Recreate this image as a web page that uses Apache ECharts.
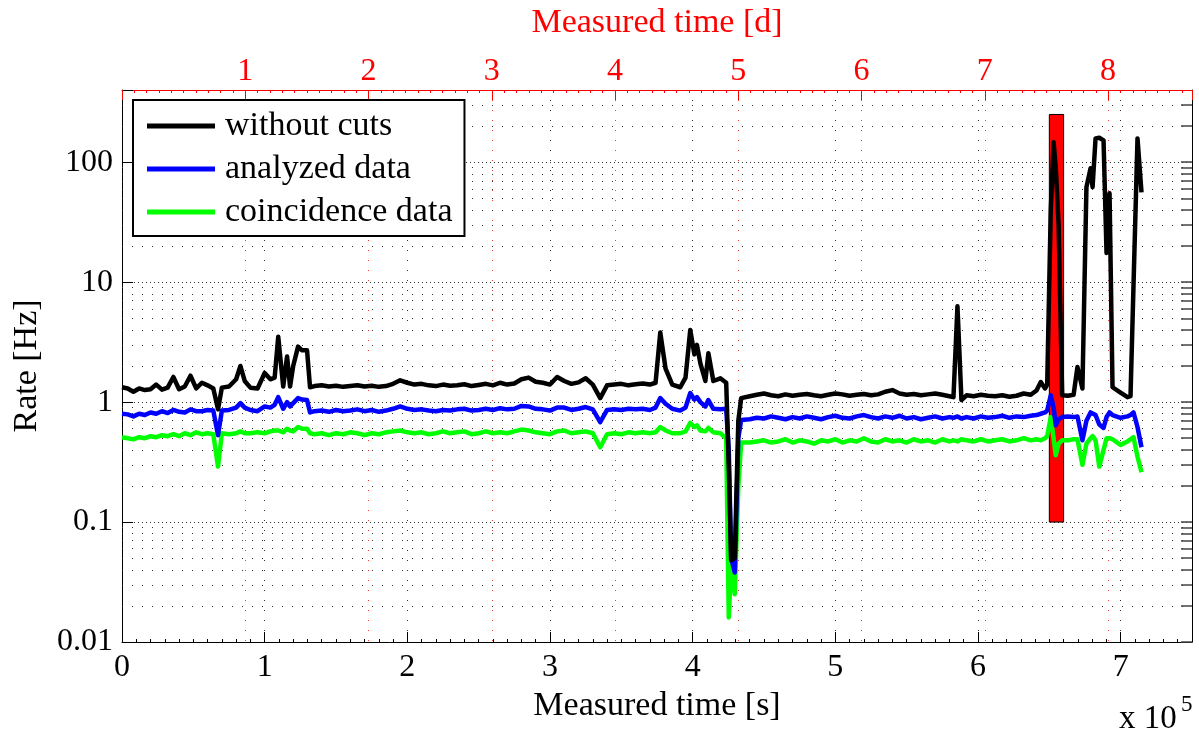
<!DOCTYPE html>
<html><head><meta charset="utf-8">
<script src="https://cdn.jsdelivr.net/npm/echarts@6/dist/echarts.min.js"></script>
<style>html,body{margin:0;padding:0;background:#fff}#c{width:1199px;height:737px}</style>
</head><body><div id="c"></div>
<script>
// ---- data (time in seconds, rate in Hz) ----
const timeS = [
  0,4000,8000,12000,16000,20000,24000,28000,32000,36000,40000,44000,48000,52000,56000,60000,64000,
  67300,70000,75000,80000,83000,86000,90000,95000,100000,104000,107000,109500,113000,115700,117800,120000,123400,126200,129700,131800,
  135000,140000,145000,150000,155000,160000,165000,170000,175000,180000,185000,190000,195000,200000,205000,210000,215000,220000,225000,230000,
  235000,240000,245000,250000,255000,260000,265000,270000,275000,280000,285000,290000,295000,300000,305000,310000,315000,320000,325000,330000,
  335200,340000,345000,350000,355000,360000,365000,370000,374000,377300,381000,385700,391300,395000,398300,401200,403000,405400,408900,411000,
  414500,419400,423500,425300,427000,429500,432000,434000,
  440000,445000,450000,455000,460000,465000,470000,475000,480000,485000,490000,495000,500000,505000,510000,515000,520000,525000,530000,535000,
  540000,545000,550000,555000,560000,565000,570000,575000,580000,
  582800,585600,588400,
  592000,597000,602000,607000,612000,617000,622000,627000,632000,637000,641000,644000,647000,
  648500,651000,653000,654500,656500,659000,663000,667000,669700,673200,676000,678900,680300,682400,685000,688000,690100,692200,694300,699900,
  704800,706900,709000,711800,714600
];
const rateWithoutCuts = [
  1.33,1.30,1.22,1.30,1.26,1.28,1.40,1.27,1.32,1.62,1.28,1.35,1.66,1.30,1.45,1.38,1.30,
  0.87,1.32,1.35,1.55,2.0,1.5,1.32,1.30,1.75,1.55,1.6,3.5,1.35,2.4,1.35,2.0,2.9,2.7,2.7,1.33,
  1.36,1.38,1.35,1.37,1.34,1.36,1.38,1.35,1.37,1.34,1.36,1.42,1.52,1.45,1.40,1.42,1.38,1.36,1.40,1.37,
  1.38,1.41,1.36,1.39,1.42,1.38,1.45,1.40,1.43,1.55,1.60,1.48,1.45,1.40,1.62,1.50,1.42,1.46,1.58,1.40,
  1.08,1.38,1.40,1.42,1.38,1.41,1.43,1.40,1.45,3.8,1.9,1.40,1.33,1.6,4.0,2.5,3.0,2.1,1.5,2.56,
  1.5,1.58,1.45,0.30,0.048,0.05,0.70,1.08,
  1.12,1.15,1.18,1.14,1.12,1.16,1.13,1.15,1.17,1.14,1.12,1.15,1.18,1.16,1.13,1.15,1.17,1.14,1.16,1.22,
  1.26,1.18,1.15,1.17,1.14,1.16,1.18,1.15,1.12,
  1.10,6.3,1.04,
  1.14,1.12,1.15,1.13,1.12,1.14,1.11,1.13,1.18,1.15,1.25,1.47,1.30,
  1.4,40,147,90,30,1.14,1.13,1.15,1.96,1.3,62,89,62,158,160,152,17.5,55,1.33,1.2,
  1.1,1.12,9.4,158,56
];
const rateAnalyzed = [
  0.80,0.79,0.76,0.80,0.78,0.82,0.80,0.84,0.81,0.86,0.83,0.82,0.87,0.84,0.84,0.86,0.85,
  0.53,0.85,0.86,0.90,0.98,0.90,0.86,0.84,0.92,0.90,0.95,1.10,0.88,1.00,0.92,0.98,1.08,1.05,1.04,0.82,
  0.84,0.85,0.83,0.86,0.84,0.85,0.87,0.84,0.86,0.83,0.85,0.88,0.92,0.88,0.86,0.87,0.85,0.84,0.86,0.85,
  0.87,0.88,0.85,0.86,0.88,0.86,0.89,0.87,0.88,0.93,0.92,0.88,0.87,0.85,0.90,0.90,0.86,0.88,0.91,0.87,
  0.68,0.86,0.87,0.86,0.88,0.87,0.88,0.86,0.90,1.08,0.97,0.88,0.85,0.90,1.19,1.05,1.10,1.00,0.92,1.04,
  0.88,0.87,0.88,0.40,0.05,0.038,0.50,0.71,
  0.72,0.74,0.73,0.76,0.74,0.72,0.75,0.73,0.76,0.74,0.72,0.75,0.77,0.74,0.73,0.76,0.78,0.75,0.73,0.76,
  0.74,0.77,0.73,0.75,0.72,0.74,0.76,0.73,0.75,
  0.74,0.76,0.73,
  0.75,0.73,0.76,0.74,0.75,0.77,0.74,0.76,0.75,0.77,0.78,0.80,0.82,
  0.85,1.14,0.9,0.64,0.72,0.75,0.76,0.75,0.76,0.48,0.70,0.82,0.80,0.78,0.65,0.61,0.75,0.82,0.78,0.74,
  0.76,0.78,0.82,0.62,0.42
];
const rateCoincidence = [
  0.51,0.50,0.49,0.51,0.50,0.52,0.51,0.53,0.52,0.54,0.52,0.55,0.53,0.56,0.54,0.55,0.54,
  0.29,0.55,0.54,0.55,0.57,0.55,0.55,0.56,0.55,0.57,0.58,0.58,0.56,0.60,0.58,0.57,0.62,0.60,0.60,0.55,
  0.54,0.55,0.53,0.55,0.54,0.56,0.55,0.53,0.55,0.54,0.56,0.57,0.58,0.56,0.55,0.56,0.54,0.55,0.57,0.55,
  0.56,0.57,0.54,0.55,0.57,0.55,0.56,0.55,0.57,0.59,0.58,0.56,0.55,0.54,0.57,0.58,0.55,0.56,0.57,0.55,
  0.42,0.54,0.55,0.54,0.56,0.55,0.56,0.55,0.56,0.62,0.58,0.55,0.55,0.57,0.67,0.62,0.64,0.58,0.57,0.61,
  0.56,0.55,0.50,0.016,0.045,0.025,0.20,0.46,
  0.46,0.47,0.48,0.46,0.47,0.49,0.46,0.48,0.47,0.45,0.48,0.47,0.49,0.46,0.48,0.47,0.50,0.47,0.46,0.49,
  0.47,0.48,0.46,0.49,0.47,0.48,0.46,0.49,0.47,
  0.48,0.47,0.49,
  0.48,0.47,0.49,0.47,0.48,0.49,0.47,0.48,0.50,0.48,0.49,0.48,0.50,
  0.52,0.75,0.5,0.36,0.45,0.48,0.48,0.49,0.49,0.30,0.45,0.50,0.52,0.48,0.29,0.40,0.50,0.50,0.49,0.44,
  0.47,0.49,0.51,0.35,0.26
];
const seriesNames = ['without cuts', 'analyzed data', 'coincidence data'];
const seriesColors = ['#000000', '#0000ff', '#00ff00'];
const yDecades = [0.01, 0.1, 1, 10, 100];
const yTickLabels = ['0.01', '0.1', '1', '10', '100'];
const yMinorSteps = [2, 3, 4, 5, 6, 7, 8, 9];
const highlightTime = [650000, 660000];
const highlightRate = [0.1, 250];

// ---- axis ranges ----
const xMin = 0, xMax = 750000, xStep = 100000, xExp = 100000;
const yMin = 0.01, yMax = 400;
const secPerDay = 86400;

const FONT = '"Liberation Serif", "Times New Roman", serif';
const yMinorGrid = [];
yDecades.forEach(d => yMinorSteps.forEach(m => { const v = +(d * m).toPrecision(3); if (v < yMax) yMinorGrid.push(v); }));
const yAllTicks = yDecades.concat(yMinorGrid);

function yLabel(v) {
  for (let i = 0; i < yDecades.length; i++) {
    if (Math.abs(Math.log10(v) - Math.log10(yDecades[i])) < 1e-6) return yTickLabels[i];
  }
  return '';
}
const rates = [rateWithoutCuts, rateAnalyzed, rateCoincidence];

const chart = echarts.init(document.getElementById('c'), null, {renderer: 'canvas'});
const option = {
  animation: false,
  backgroundColor: '#ffffff',
  textStyle: {fontFamily: FONT},
  grid: {left: 122, right: 7, top: 90, bottom: 95, containLabel: false},
  legend: {
    data: seriesNames, orient: 'vertical', left: 133, top: 100,
    padding: [9, 12, 7, 14], itemGap: 9, itemWidth: 68, itemHeight: 5, icon: 'rect',
    borderColor: '#000', borderWidth: 2, backgroundColor: '#fff', borderRadius: 0,
    textStyle: {fontFamily: FONT, fontSize: 34, color: '#000', lineHeight: 32, padding: [0, 0, 0, 5]},
    z: 10
  },
  xAxis: [
    {
      type: 'value', position: 'bottom', min: xMin, max: xMax, interval: xStep,
      name: 'Measured time [s]', nameLocation: 'middle', nameGap: 45,
      nameTextStyle: {fontFamily: FONT, fontSize: 34, color: '#000'},
      axisLine: {show: true, onZero: false, lineStyle: {color: '#000', width: 1}},
      axisTick: {show: true, inside: true, length: 10, lineStyle: {color: '#000'}},
      minorTick: {show: true, splitNumber: 10, length: 3, lineStyle: {color: '#000'}},
      axisLabel: {fontFamily: FONT, fontSize: 32, color: '#000', margin: 10,
        formatter: v => (v % xExp === 0 ? String(v / xExp) : '')},
      splitLine: {show: true, lineStyle: {color: '#333', width: 1, type: [1, 9]}}
    },
    {
      type: 'value', position: 'top', min: 0, max: xMax / secPerDay, interval: 1,
      name: 'Measured time [d]', nameLocation: 'middle', nameGap: 50,
      nameTextStyle: {fontFamily: FONT, fontSize: 34, color: '#ff0000'},
      axisLine: {show: true, onZero: false, lineStyle: {color: '#ff0000', width: 1}},
      axisTick: {show: true, inside: true, length: 10, lineStyle: {color: '#ff0000'}},
      minorTick: {show: true, splitNumber: 10, length: 3, lineStyle: {color: '#ff0000'}},
      axisLabel: {fontFamily: FONT, fontSize: 32, color: '#ff0000', margin: 2,
        formatter: v => (Math.abs(v - Math.round(v)) < 1e-9 && v > 0.5 ? String(Math.round(v)) : '')},
      splitLine: {show: true, lineStyle: {color: '#ff3333', width: 1, type: [1, 9]}}
    }
  ],
  yAxis: [
    {
      type: 'log', logBase: 10, min: yMin, max: yMax, position: 'left',
      name: 'Rate [Hz]', nameLocation: 'middle', nameGap: 78, nameRotate: 90,
      nameTextStyle: {fontFamily: FONT, fontSize: 34, color: '#000'},
      axisLine: {show: true, onZero: false, lineStyle: {color: '#000', width: 1}},
      axisTick: {show: true, inside: true, length: 11, lineStyle: {color: '#000'}},
      axisLabel: {fontFamily: FONT, fontSize: 32, color: '#000', margin: 9, formatter: yLabel},
      splitLine: {show: true, lineStyle: {color: '#333', width: 1, type: [1, 3]}}
    },
    {
      type: 'log', logBase: 10, min: yMin, max: yMax, position: 'right',
      axisLine: {show: true, onZero: false, lineStyle: {color: '#000', width: 1}},
      axisTick: {show: true, inside: true, length: 11, customValues: yAllTicks, lineStyle: {color: '#444', width: 1.5}},
      axisLabel: {show: false},
      splitLine: {show: false}
    }
  ],
  graphic: [
    {type: 'text', left: 1119, top: 703, z: 20, style: {text: 'x 10', font: '33px "Liberation Serif", serif', fill: '#000'}},
    {type: 'text', left: 1181, top: 693, z: 20, style: {text: '5', font: '23px "Liberation Serif", serif', fill: '#000'}}
  ],
  series: [
    {
      type: 'line', xAxisIndex: 0, yAxisIndex: 0, data: [], z: 1, silent: true,
      markLine: {
        silent: true, symbol: 'none', z: 1, animation: false,
        label: {show: false},
        lineStyle: {color: '#333', width: 1, type: [1, 9]},
        emphasis: {disabled: true},
        data: yMinorGrid.map(v => ({yAxis: v}))
      },
      markArea: {
        silent: true, z: 2, animation: false,
        itemStyle: {color: '#ff0000', opacity: 1, borderColor: '#000', borderWidth: 1},
        label: {show: false},
        data: [[{coord: [highlightTime[0], highlightRate[0]]}, {coord: [highlightTime[1], highlightRate[1]]}]]
      }
    }
  ].concat(seriesNames.map((n, i) => ({
    name: n, type: 'line', xAxisIndex: 0, yAxisIndex: 0, z: 5,
    showSymbol: false, symbol: 'none', smooth: false,
    lineStyle: {color: seriesColors[i], width: 4.5, join: 'round'},
    itemStyle: {color: seriesColors[i]},
    emphasis: {disabled: true},
    data: timeS.map((t, k) => [t, rates[i][k]])
  })).reverse())
};
chart.setOption(option);
</script>
</body></html>
